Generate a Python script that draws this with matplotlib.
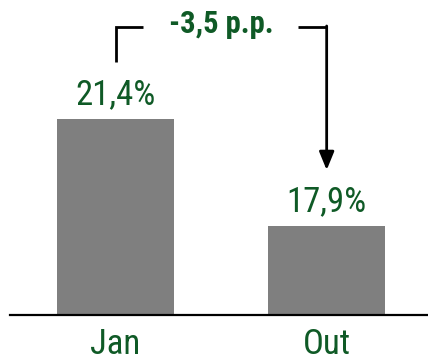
import matplotlib
matplotlib.use("Agg")
import matplotlib.pyplot as plt

plt.rcParams['font.family'] = ['Roboto Condensed', 'DejaVu Sans Condensed',
                               'Open Sans Condensed', 'Liberation Sans Narrow',
                               'Roboto', 'DejaVu Sans']

categories = ["Jan", "Out"]
values = [21.4, 17.9]
value_labels = ["21,4%", "17,9%"]
change_label = "-3,5 p.p."

green = "#0f5a26"
bar_color = "#7f7f7f"

fig = plt.figure(figsize=(4.28, 3.61), dpi=100)
ax = fig.add_axes([10 / 428, 46 / 361, 418 / 428, 315 / 361])

x = list(range(len(categories)))
ax.bar(x, values, width=0.555, color=bar_color, bottom=0)
ax.set_xlim(-0.5, 1.48)
ax.set_ylim(15, 25.3)

for xi, v, lab in zip(x, values, value_labels):
    ax.annotate(lab, (xi, v), xytext=(0, 10.8), textcoords="offset points",
                ha="center", va="baseline", fontsize=25, color=green)

# axis styling
for s in ["top", "right", "left"]:
    ax.spines[s].set_visible(False)
ax.spines["bottom"].set_linewidth(1.6)
ax.spines["bottom"].set_color("black")
ax.set_yticks([])
ax.set_xticks(x)
ax.set_xticklabels(categories, fontsize=25, color=green)
ax.tick_params(axis="x", length=0, pad=9)

# change bracket from the first bar to the second
y_top = 24.42
ax.plot([0, 0, 0.13], [23.28, y_top, y_top], color="black", lw=2,
        solid_joinstyle="miter", solid_capstyle="butt")
ax.plot([0.863, 1], [y_top, y_top], color="black", lw=2, solid_capstyle="butt")
ax.annotate("", xy=(1, 19.74), xytext=(1, y_top + 0.03),
            arrowprops=dict(arrowstyle="-|>,head_length=1.1,head_width=0.45",
                            color="black", lw=2, shrinkA=0, shrinkB=0))
ax.text(0.5, 24.22, change_label, ha="center", va="baseline",
        fontsize=22, fontweight="bold", color=green)

fig.savefig("out.png", dpi=100)
